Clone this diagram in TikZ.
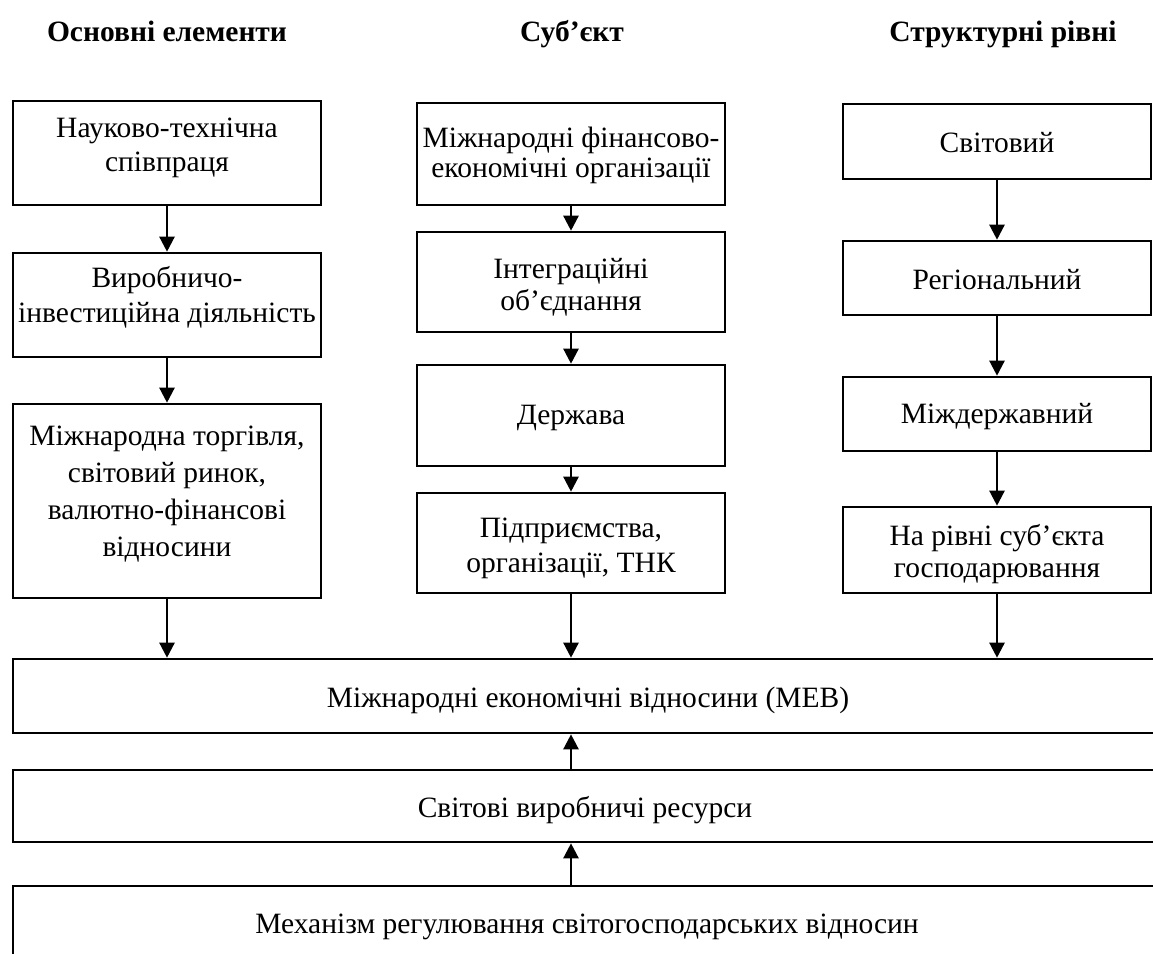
\documentclass[tikz,border=0pt]{standalone}
\usepackage{fontspec}
\setmainfont{Liberation Serif}
\usetikzlibrary{arrows.meta}

% invisible rule that fixes the top of every text block
\newcommand\toprule{\rule{0pt}{26pt}}

\tikzset{
  frame/.style={draw, line width=2.6pt, inner sep=0pt, minimum width=308pt},
  wide/.style={draw, line width=2.6pt, inner sep=0pt, minimum width=1148pt},
  txt/.style={anchor=north, inner sep=0pt, align=center,
    font=\fontsize{29.5}{#1}\selectfont},
  txt/.default=35,
  head/.style={anchor=base, inner sep=0pt, font=\fontsize{29.5}{35}\selectfont\bfseries},
  arr/.style={line width=2.4pt, -{Triangle[length=15pt,width=15pt]}}
}

\begin{document}
\begin{tikzpicture}[x=1pt, y=-1pt]
  \useasboundingbox (0,0) rectangle (1153,953);
  \clip (0,0) rectangle (1153,953);

  % column headings
  \node[head] (h1) at (167,41) {Основні елементи};
  \node[head] (h2) at (572,41) {Суб’єкт};
  \node[head] (h3) at (1003,41) {Структурні рівні};

  % frames: main elements
  \node[frame, minimum height=104pt] (l1) at (167,153) {};
  \node[frame, minimum height=104pt] (l2) at (167,305) {};
  \node[frame, minimum height=194pt] (l3) at (167,501) {};
  % frames: subjects
  \node[frame, minimum height=102pt] (m1) at (571,154) {};
  \node[frame, minimum height=100pt] (m2) at (571,282) {};
  \node[frame, minimum height=101pt] (m3) at (571,415.5) {};
  \node[frame, minimum height=100pt] (m4) at (571,543) {};
  % frames: structural levels
  \node[frame, minimum height=75pt] (r1) at (997,141.5) {};
  \node[frame, minimum height=74pt] (r2) at (997,278) {};
  \node[frame, minimum height=74pt] (r3) at (997,414) {};
  \node[frame, minimum height=86pt] (r4) at (997,550) {};
  % wide frames
  \node[wide, minimum height=74pt] (meb) at (587,696) {};
  \node[wide, minimum height=72pt] (res) at (587,806) {};
  \node[wide, minimum height=74pt] (mech) at (587,923) {};

  % texts (north edge = first baseline - 26pt)
  \node[txt=34] (l1t) at (167,111) {\toprule Науково-технічна\\співпраця};
  \node[txt=35] (l2t) at (167,261) {\toprule Виробничо-\\інвестиційна діяльність};
  \node[txt=37] (l3t) at (167,419) {\toprule Міжнародна торгівля,\\світовий ринок,\\валютно-фінансові\\відносини};

  \node[txt=29.5] (m1t) at (571,121.5) {\toprule Міжнародні фінансово-\\економічні організації};
  \node[txt=32] (m2t) at (571,252) {\toprule Інтеграційні\\об’єднання};
  \node[txt] (m3t) at (571,398) {\toprule Держава};
  \node[txt=35] (m4t) at (571,511) {\toprule Підприємства,\\організації, ТНК};

  \node[txt] (r1t) at (997,126) {\toprule Світовий};
  \node[txt] (r2t) at (997,263) {\toprule Регіональний};
  \node[txt] (r3t) at (997,397) {\toprule Міждержавний};
  \node[txt=32] (r4t) at (997,519) {\toprule На рівні суб’єкта\\господарювання};

  \node[txt] (mebt) at (588,681) {\toprule Міжнародні економічні відносини (МЕВ)};
  \node[txt] (rest) at (585,791) {\toprule Світові виробничі ресурси};
  \node[txt] (mecht) at (587,907) {\toprule Механізм регулювання світогосподарських відносин};

  % connectors within columns
  \draw[arr] (l1) -- (l2);
  \draw[arr] (l2) -- (l3);
  \draw[arr] (m1) -- (m2);
  \draw[arr] (m2) -- (m3);
  \draw[arr] (m3) -- (m4);
  \draw[arr] (r1) -- (r2);
  \draw[arr] (r2) -- (r3);
  \draw[arr] (r3) -- (r4);

  % connectors into the wide frame
  \draw[arr] (l3.south) -- (l3.south |- meb.north);
  \draw[arr] (m4.south) -- (m4.south |- meb.north);
  \draw[arr] (r4.south) -- (r4.south |- meb.north);

  % upward connectors
  \draw[arr] (m4.south |- res.north) -- (m4.south |- meb.south);
  \draw[arr] (m4.south |- mech.north) -- (m4.south |- res.south);
\end{tikzpicture}
\end{document}
